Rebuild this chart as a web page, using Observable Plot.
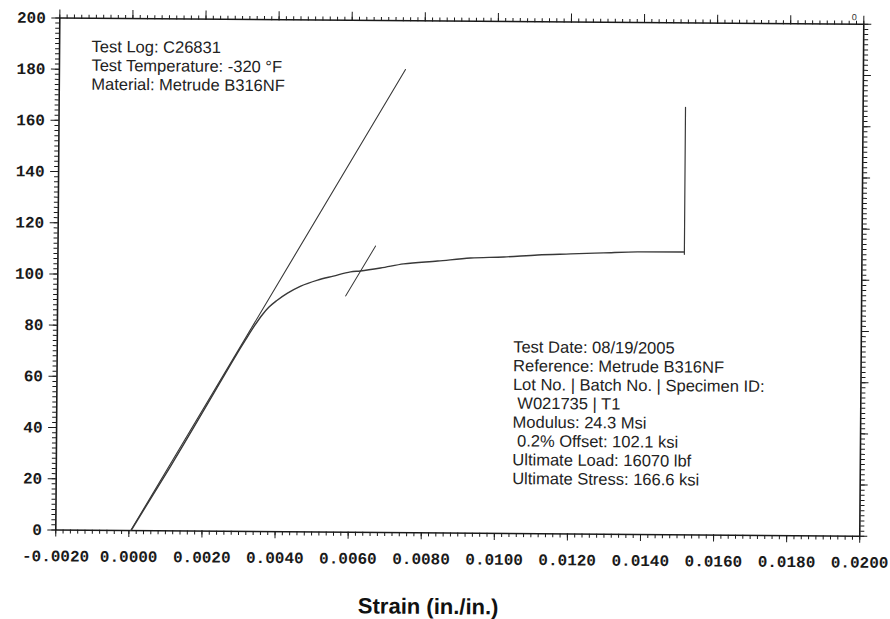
<!DOCTYPE html>
<html>
<head>
<meta charset="utf-8">
<script src="https://cdn.jsdelivr.net/npm/d3@7"></script>
<script src="https://cdn.jsdelivr.net/npm/@observablehq/plot@0.6"></script>
<style>
  html, body { margin: 0; padding: 0; background: #ffffff; overflow: hidden; }
  #chart { width: 890px; height: 619px; transform: translate(0px, 3.5px) rotate(0.45deg); transform-origin: 445px 310px; }
</style>
</head>
<body>
<div id="chart"></div>
<script>
// ---- data ----
const curveStrain = [0.00008, 0.00113, 0.00250, 0.00283, 0.00315, 0.00340, 0.00360, 0.00378, 0.00400, 0.00429, 0.00465, 0.00511, 0.00554, 0.00601, 0.00628, 0.00683, 0.00746, 0.00839, 0.00929, 0.01020, 0.01113, 0.01203, 0.01293, 0.01386, 0.01512];
const curveStress = [0.5, 25.3, 59.0, 67.2, 74.8, 80.5, 84.6, 87.6, 90.3, 93.2, 96.0, 98.4, 100.0, 101.7, 102.1, 103.3, 105.0, 106.2, 107.5, 108.0, 108.9, 109.4, 109.9, 110.4, 110.5];

const modulusStrain = [0.00005, 0.00747];
const modulusStress = [0, 180.9];

const offsetStrain = [0.00588, 0.00669];
const offsetStress = [92.3, 111.9];

const ultimateStrain = [0.01514, 0.01514];
const ultimateStress = [109.6, 167.0];

const xMajorTicks = [-0.002, 0, 0.002, 0.004, 0.006, 0.008, 0.010, 0.012, 0.014, 0.016, 0.018, 0.020];
const xTickLabels = ["-0.0020", "0.0000", "0.0020", "0.0040", "0.0060", "0.0080", "0.0100", "0.0120", "0.0140", "0.0160", "0.0180", "0.0200"];
const yMajorTicks = [0, 20, 40, 60, 80, 100, 120, 140, 160, 180, 200];
const yTickLabels = ["0", "20", "40", "60", "80", "100", "120", "140", "160", "180", "200"];

const headerLines = ["Test Log: C26831", "Test Temperature: -320 °F", "Material: Metrude B316NF"];
const infoLines = [
  "Test Date: 08/19/2005",
  "Reference: Metrude B316NF",
  "Lot No. | Batch No. | Specimen ID:",
  "\u00a0W021735 | T1",
  "Modulus: 24.3 Msi",
  "\u00a00.2% Offset: 102.1 ksi",
  "Ultimate Load: 16070 lbf",
  "Ultimate Stress: 166.6 ksi"
];
const xTitle = "Strain (in./in.)";
const cornerMark = "0";

// ---- build tables ----
const pairs = (xs, ys) => xs.map((x, i) => ({x, y: ys[i]}));
const curve = pairs(curveStrain, curveStress);
const modulus = pairs(modulusStrain, modulusStress);
const offset = pairs(offsetStrain, offsetStress);
const ultimate = pairs(ultimateStrain, ultimateStress);

const xMinor = d3.range(-10, 101).map(i => +(i * 0.0002).toFixed(5));
const yMinor = d3.range(0, 101).map(i => i * 2);

const monoFont = "'Liberation Mono', 'Courier New', monospace";
const sansFont = "'Liberation Sans', Arial, sans-serif";
const ink = "#1a1a1a";
const lineInk = "#383838";

const chart = Plot.plot({
  width: 890,
  height: 619,
  marginLeft: 57,
  marginRight: 29,
  marginTop: 17,
  marginBottom: 90,
  style: {background: "#ffffff", color: ink},
  x: {domain: [-0.002, 0.020]},
  y: {domain: [0, 200]},
  marks: [
    // minor ticks
    Plot.axisX(xMinor, {anchor: "bottom", tickSize: 4, text: null, label: null, stroke: ink}),
    Plot.axisX(xMinor, {anchor: "top", tickSize: 4, text: null, label: null, stroke: ink}),
    Plot.axisY(yMinor, {anchor: "left", tickSize: 4, text: null, label: null, stroke: ink}),
    Plot.axisY(yMinor, {anchor: "right", tickSize: 4, text: null, label: null, stroke: ink}),
    // major ticks + labels
    Plot.axisX(xMajorTicks, {
      anchor: "bottom", tickSize: 7, tickPadding: 13, label: null,
      tickFormat: d => xTickLabels[xMajorTicks.indexOf(d)],
      fontFamily: monoFont, fontSize: 16, fontWeight: "bold", fill: ink, stroke: ink
    }),
    Plot.axisX(xMajorTicks, {anchor: "top", tickSize: 9, text: null, label: null, stroke: ink}),
    Plot.axisY(yMajorTicks, {
      anchor: "left", tickSize: 8, tickPadding: 6, label: null,
      tickFormat: d => yTickLabels[yMajorTicks.indexOf(d)],
      fontFamily: monoFont, fontSize: 16, fontWeight: "bold", fill: ink, stroke: ink
    }),
    Plot.axisY(yMajorTicks, {anchor: "right", tickSize: 7, text: null, label: null, stroke: ink}),
    Plot.frame({stroke: ink, strokeWidth: 1.6}),
    // data lines
    Plot.line(modulus, {x: "x", y: "y", stroke: lineInk, strokeWidth: 1.1}),
    Plot.line(offset, {x: "x", y: "y", stroke: lineInk, strokeWidth: 1}),
    Plot.line(ultimate, {x: "x", y: "y", stroke: lineInk, strokeWidth: 1.2}),
    Plot.line(curve, {x: "x", y: "y", stroke: lineInk, strokeWidth: 1.4, curve: "monotone-x"}),
    // annotations
    Plot.text([headerLines.join("\n")], {
      text: d => d, frameAnchor: "top-left", dx: 32, dy: 20.5,
      textAnchor: "start", lineAnchor: "top", lineHeight: 1.14,
      fontFamily: sansFont, fontSize: 16.5, fill: "#222"
    }),
    Plot.text([infoLines.join("\n")], {
      text: d => d, frameAnchor: "top-left", dx: 456, dy: 317.5,
      textAnchor: "start", lineAnchor: "top", lineHeight: 1.14,
      fontFamily: sansFont, fontSize: 16.5, fill: "#222"
    }),
    Plot.text([xTitle], {
      text: d => d, frameAnchor: "bottom", dx: -29, dy: 74,
      lineAnchor: "middle", fontFamily: sansFont, fontSize: 22, fontWeight: "bold", fill: "#111"
    }),
    Plot.text([cornerMark], {
      text: d => d, frameAnchor: "top-right", dx: -7, dy: -4,
      lineAnchor: "bottom", fontFamily: sansFont, fontSize: 9, fill: "#333"
    })
  ]
});

document.getElementById("chart").appendChild(chart);
</script>
</body>
</html>
